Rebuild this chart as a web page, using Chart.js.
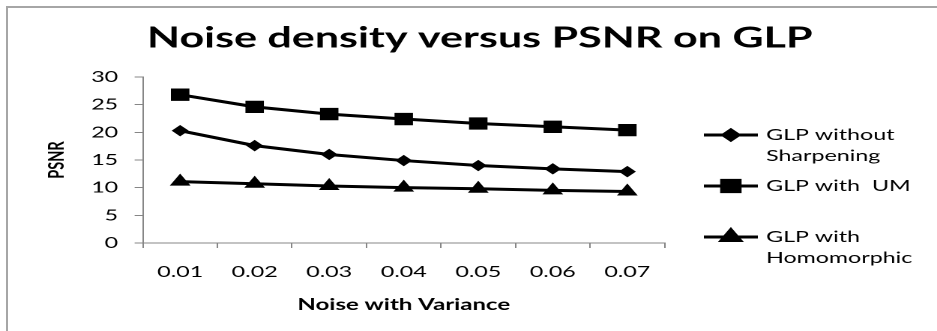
<!DOCTYPE html>
<html>
<head>
<meta charset="utf-8">
<title>Noise density versus PSNR on GLP</title>
<script src="https://cdn.jsdelivr.net/npm/chart.js@4/dist/chart.umd.min.js"></script>
<style>
  html, body { margin: 0; padding: 0; background: #fff; overflow: hidden; width: 937px; height: 331px; }
  #frame { position: absolute; left: 6px; top: 6px; width: 1000px; height: 400px;
           border-left: 2px solid #a6a6a6; border-top: 2px solid #a6a6a6; }
  /* the chart is laid out in a narrower box and widened horizontally */
  #wrap { position: absolute; left: 0; top: 0; width: 625px; height: 331px;
          transform: scaleX(1.4992); transform-origin: 0 0; }
</style>
</head>
<body>
<div id="frame"></div>
<div id="wrap"><canvas id="chart"></canvas></div>
<script>
// Noise variance categories
const categories = ['0.01', '0.02', '0.03', '0.04', '0.05', '0.06', '0.07'];

// PSNR per method
const glpWithoutSharpening = [20.3, 17.6, 16.0, 14.9, 14.0, 13.4, 12.9];
const glpWithUM            = [26.8, 24.6, 23.3, 22.4, 21.6, 21.0, 20.4];
const glpWithHomomorphic   = [11.1, 10.7, 10.3, 10.0, 9.8, 9.5, 9.3];

const seriesNames = ['GLP without Sharpening', 'GLP with  UM', 'GLP with Homomorphic'];
const legendLines = [['GLP without', 'Sharpening'], ['GLP with  UM'], ['GLP with', 'Homomorphic']];

// y axis tick values
const yTicks = [0, 5, 10, 15, 20, 25, 30];

const AXIS_GRAY = '#868686';
const FONT = 'Lato, "Open Sans", sans-serif';

function series(label, data, style, radius) {
  return {
    label, data,
    borderColor: '#000', backgroundColor: '#000', borderWidth: 3,
    pointStyle: style, pointRadius: radius, pointHoverRadius: radius,
    pointBackgroundColor: '#000', pointBorderColor: '#000', pointBorderWidth: 1,
    tension: 0, fill: false
  };
}

// Legend on the right: line sample with marker, text wrapped over lines
const sideLegend = {
  id: 'sideLegend',
  afterDraw(chart) {
    const ctx = chart.ctx;
    const ds = chart.data.datasets;
    const x0 = 469.5, x1 = 505.5, textX = 511;
    const firstY = 135, slot = 51, lineH = 21;
    ctx.save();
    ds.forEach((d, i) => {
      const y = firstY + slot * i;
      ctx.strokeStyle = '#000';
      ctx.lineWidth = 3;
      ctx.beginPath();
      ctx.moveTo(x0, y);
      ctx.lineTo(x1, y);
      ctx.stroke();
      ctx.fillStyle = '#000';
      Chart.helpers.drawPoint(ctx, {
        pointStyle: d.pointStyle, radius: d.pointRadius, rotation: 0, borderWidth: 1
      }, (x0 + x1) / 2, y);
      ctx.fill();
      ctx.font = '15.5px ' + FONT;
      ctx.textAlign = 'left';
      ctx.textBaseline = 'middle';
      legendLines[i].forEach((t, k) => ctx.fillText(t, textX, y + k * lineH));
    });
    ctx.restore();
  }
};

new Chart(document.getElementById('chart'), {
  type: 'line',
  data: {
    labels: categories,
    datasets: [
      series(seriesNames[0], glpWithoutSharpening, 'rectRot', 5),
      series(seriesNames[1], glpWithUM, 'rect', 8),
      series(seriesNames[2], glpWithHomomorphic, 'triangle', 7)
    ]
  },
  options: {
    responsive: true,
    maintainAspectRatio: false,
    animation: false,
    devicePixelRatio: 2,
    layout: { padding: { left: 15, right: 0, top: 0, bottom: 0 } },
    plugins: {
      legend: { display: false },
      tooltip: { enabled: false },
      title: {
        display: true,
        text: 'Noise density versus PSNR on GLP',
        color: '#000',
        font: { family: FONT, size: 28.7, weight: 'bold', lineHeight: 1.2 },
        padding: { top: 21, bottom: 21.56 }
      }
    },
    scales: {
      x: {
        type: 'category',
        offset: true,
        grid: { display: true, drawOnChartArea: false, offset: true, color: AXIS_GRAY, tickLength: 5, tickWidth: 1 },
        border: { display: true, color: AXIS_GRAY, width: 1 },
        ticks: { color: '#000', font: { family: FONT, size: 15.5 }, padding: 14.7, maxRotation: 0, autoSkip: false },
        title: {
          display: true, text: 'Noise with Variance', color: '#000',
          font: { family: FONT, size: 16, weight: 'bold', lineHeight: 1.2 },
          padding: { top: 0, bottom: 16.4 }
        },
        afterFit(s) { s.height = 88; }
      },
      y: {
        type: 'linear',
        position: 'left',
        min: 0, max: 30,
        afterBuildTicks(s) { s.ticks = yTicks.map(v => ({ value: v })); },
        grid: { display: true, drawOnChartArea: false, color: AXIS_GRAY, tickLength: 5.5, tickWidth: 1 },
        border: { display: true, color: AXIS_GRAY, width: 1 },
        ticks: { color: '#000', font: { family: FONT, size: 15.5 }, padding: 11 },
        title: {
          display: true, text: 'PSNR', color: '#000',
          font: { family: FONT, size: 14.5, weight: 'bold', lineHeight: 1.2 },
          padding: { top: 14.3, bottom: 0 }
        },
        afterFit(s) { s.width = 80.3; }
      },
      // reserves the right-hand band used by the legend
      side: {
        type: 'linear',
        position: 'right',
        display: true,
        grid: { display: false },
        border: { display: false },
        ticks: { display: false },
        afterFit(s) { s.width = 181.7; }
      }
    }
  },
  plugins: [sideLegend]
});
</script>
</body>
</html>
